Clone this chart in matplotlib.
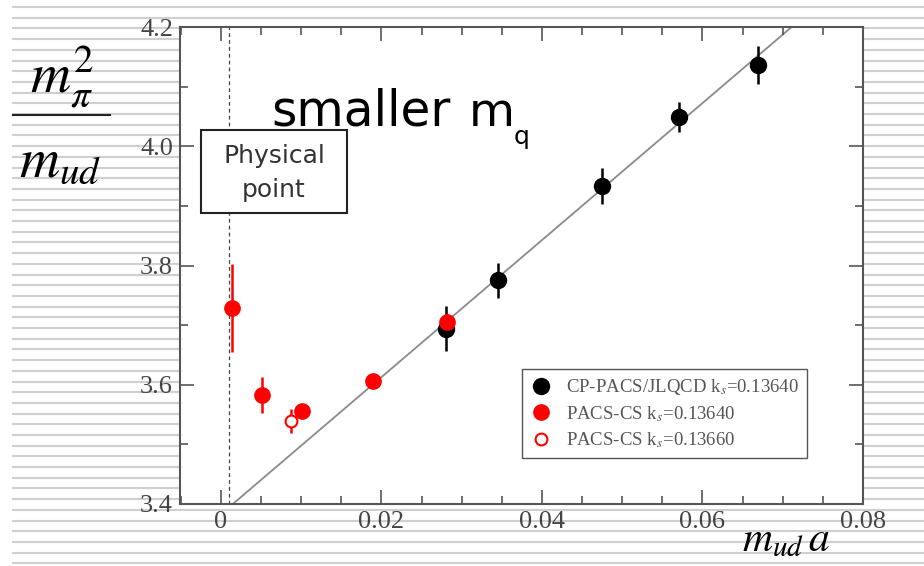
import matplotlib
matplotlib.use('Agg')
import matplotlib.pyplot as plt
from matplotlib.patches import Rectangle
import numpy as np

plt.rcParams['mathtext.fontset'] = 'stix'

# CP-PACS/JLQCD (kappa_s = 0.13640)
cp_x = [0.0280, 0.0345, 0.0475, 0.0571, 0.0669]
cp_y = [3.694, 3.775, 3.933, 4.049, 4.136]
cp_err = [0.038, 0.030, 0.030, 0.025, 0.032]

# PACS-CS (kappa_s = 0.13640)
pc_x = [0.0014, 0.0051, 0.0101, 0.0190, 0.0282]
pc_y = [3.729, 3.583, 3.556, 3.607, 3.706]
pc_err = [0.074, 0.030, 0.010, 0.008, 0.012]

# PACS-CS (kappa_s = 0.13660)
po_x = [0.00875]
po_y = [3.539]
po_err = [0.020]

# 直線フィット
fit_a = 3.383
fit_b = 11.49
fit_x = np.array([0.0, 0.08])

phys_x = 0.001

xticks = [0, 0.02, 0.04, 0.06, 0.08]
xlabels = ['0', '0.02', '0.04', '0.06', '0.08']
yticks = [3.4, 3.6, 3.8, 4.0, 4.2]
ylabels = ['3.4', '3.6', '3.8', '4.0', '4.2']

W, H = 924, 566
fig = plt.figure(figsize=(W / 100, H / 100), dpi=100)

# 背景(スライドの縞模様)
bg = fig.add_axes([0, 0, 1, 1], zorder=-5)
bg.set_xlim(0, W)
bg.set_ylim(H, 0)
bg.axis('off')
stripe_y = np.arange(7, H, 10.7)
bg.hlines(stripe_y, 12, W, color='#cfcfcf', lw=1.5)
bg.add_patch(Rectangle((138, 12), 752, 525, facecolor='white', edgecolor='none'))

ax = fig.add_axes([180 / W, 62 / H, 683 / W, 477 / H])

gray = '#555555'
ax.plot(fit_x, fit_a + fit_b * fit_x, color='#8a8a8a', lw=1.3, zorder=1)
ax.axvline(phys_x, color='#444444', lw=0.9, ls=(0, (3, 2.5)), zorder=1)

ax.errorbar(cp_x, cp_y, yerr=cp_err, fmt='none', ecolor='black', elinewidth=1.8, zorder=2)
ax.plot(cp_x, cp_y, 'o', color='black', ms=11.5, label=r'CP-PACS/JLQCD k$_s$=0.13640', zorder=3)
ax.errorbar(pc_x, pc_y, yerr=pc_err, fmt='none', ecolor='red', elinewidth=1.8, zorder=4)
ax.plot(pc_x, pc_y, 'o', color='red', ms=11, label=r'PACS-CS k$_s$=0.13640', zorder=5)
ax.errorbar(po_x, po_y, yerr=po_err, fmt='none', ecolor='red', elinewidth=1.8, zorder=4)
ax.plot(po_x, po_y, 'o', mfc='white', mec='red', mew=1.5, ms=8.5, label=r'PACS-CS k$_s$=0.13660', zorder=5)

ax.set_xlim(-0.0051, 0.08)
ax.set_ylim(3.4, 4.2)
ax.set_xticks(xticks)
ax.set_xticklabels(xlabels)
ax.set_yticks(yticks)
ax.set_yticklabels(ylabels)
ax.set_xticks(np.arange(-0.005, 0.0801, 0.005), minor=True)
ax.set_yticks(np.arange(3.4, 4.21, 0.1), minor=True)
ax.tick_params(which='both', direction='in', top=True, right=True, color=gray, width=1.2,
               labelsize=19, labelcolor='#444444', pad=5)
ax.tick_params(which='major', length=10)
ax.tick_params(which='minor', length=6)
for lab in ax.get_xticklabels() + ax.get_yticklabels():
    lab.set_family('Liberation Serif')
for s in ax.spines.values():
    s.set_color(gray)
    s.set_linewidth(1.5)

leg = ax.legend(loc='lower left', bbox_to_anchor=(0.50, 0.096), fancybox=False, framealpha=1,
                edgecolor=gray, prop={'family': 'Liberation Serif', 'size': 13.5},
                handletextpad=0.7, labelspacing=0.35, borderpad=0.45, handlelength=1.2,
                borderaxespad=0)
leg.get_frame().set_linewidth(1.0)
for t in leg.get_texts():
    t.set_color('#555555')

# 物理点のラベル
ax.add_patch(Rectangle((201 / W, 1 - 213 / H), 146 / W, 83 / H, transform=fig.transFigure,
                       facecolor='white', edgecolor='#222222', lw=1.5, zorder=6))
fig.text(274 / W, 1 - 156 / H, 'Physical', ha='center', va='center', fontsize=18, color='#333333')
fig.text(274 / W, 1 - 190 / H, 'point', ha='center', va='center', fontsize=18, color='#333333')

fig.text(271 / W, 1 - 126 / H, 'smaller', fontsize=35, family='DejaVu Sans', color='black')
fig.text(469 / W, 1 - 126 / H, 'm', fontsize=34, family='DejaVu Sans', color='black')
fig.text(514 / W, 1 - 144 / H, 'q', fontsize=18, family='DejaVu Sans', color='black')

# 軸ラベル
fig.text(62 / W, 1 - 92 / H, r'$m_{\pi}^{2}$', fontsize=40, ha='center', va='baseline')
bg.plot([13, 110], [115, 115], color='#222222', lw=1.5)
fig.text(60 / W, 1 - 177 / H, r'$m_{ud}$', fontsize=40, ha='center', va='baseline')
fig.text(786 / W, 1 - 551 / H, r'$m_{ud}\,a$', fontsize=30, ha='center', va='baseline')

fig.savefig('out.png', dpi=100)
